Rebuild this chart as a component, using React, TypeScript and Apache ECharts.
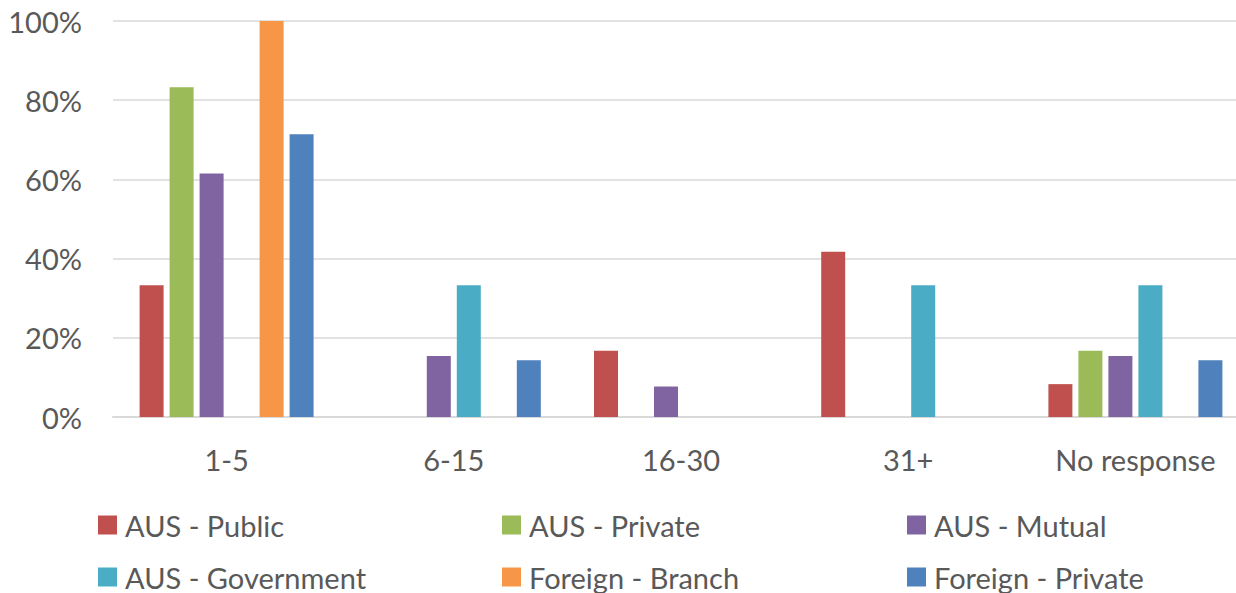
import React, { useEffect, useRef } from "react";
import * as echarts from "echarts";

const categories = ["1-5", "6-15", "16-30", "31+", "No response"];
const seriesNames = [
  "AUS - Public",
  "AUS - Private",
  "AUS - Mutual",
  "AUS - Government",
  "Foreign - Branch",
  "Foreign - Private",
];
const ausPublic = [33.3, 0, 16.7, 41.7, 8.3];
const ausPrivate = [83.3, 0, 0, 0, 16.7];
const ausMutual = [61.5, 15.4, 7.7, 0, 15.4];
const ausGovernment = [0, 33.3, 0, 33.3, 33.3];
const foreignBranch = [100, 0, 0, 0, 0];
const foreignPrivate = [71.4, 14.3, 0, 0, 14.3];
const seriesValues = [ausPublic, ausPrivate, ausMutual, ausGovernment, foreignBranch, foreignPrivate];
const colors = ["#C0504D", "#9BBB59", "#8064A2", "#4BACC6", "#F79646", "#4F81BD"];
const yTicks = [0, 20, 40, 60, 80, 100];

const FONT = "Lato";
const TEXT = "#595959";

export default function App() {
  const ref = useRef<HTMLDivElement>(null);
  useEffect(() => {
    if (!ref.current) return;
    const chart = echarts.init(ref.current, null, { renderer: "svg" });
    const legendPos = [
      [98, 510.5],
      [502, 510.5],
      [907, 510.5],
      [98, 562.5],
      [502, 562.5],
      [907, 562.5],
    ];
    chart.setOption({
      animation: false,
      backgroundColor: "#ffffff",
      textStyle: { fontFamily: FONT },
      grid: {
        left: 113,
        top: 21,
        width: 1136,
        height: 396,
        containLabel: false,
        outerBoundsMode: "none",
      },
      xAxis: {
        type: "category",
        data: categories,
        axisLine: { lineStyle: { color: "#D9D9D9", width: 2 } },
        axisTick: { show: false },
        axisLabel: { color: TEXT, fontSize: 29, fontFamily: FONT, margin: 28, interval: 0 },
        splitLine: { show: false },
      },
      yAxis: {
        type: "value",
        min: yTicks[0],
        max: yTicks[yTicks.length - 1],
        interval: 20,
        axisLine: { show: false },
        axisTick: { show: false },
        axisLabel: { color: TEXT, fontSize: 29, fontFamily: FONT, margin: 31, formatter: "{value}%" },
        splitLine: { lineStyle: { color: "#D9D9D9", width: 1.5 } },
      },
      legend: seriesNames.map((name, i) => ({
        data: [name],
        left: legendPos[i][0],
        top: legendPos[i][1],
        padding: 0,
        icon: "rect",
        itemWidth: 19,
        itemHeight: 19,
        selectedMode: false,
        textStyle: { color: TEXT, fontSize: 29, fontFamily: FONT, padding: [0, 0, 0, 3] },
      })),
      series: seriesNames.map((name, i) => ({
        name,
        type: "bar",
        data: seriesValues[i],
        barWidth: 24,
        barGap: "25%",
        itemStyle: { color: colors[i] },
      })),
    });
    return () => chart.dispose();
  }, []);
  return (
    <div
      ref={ref}
      style={{ position: "fixed", left: 0, top: 0, width: 1236, height: 593, background: "#fff" }}
    />
  );
}
